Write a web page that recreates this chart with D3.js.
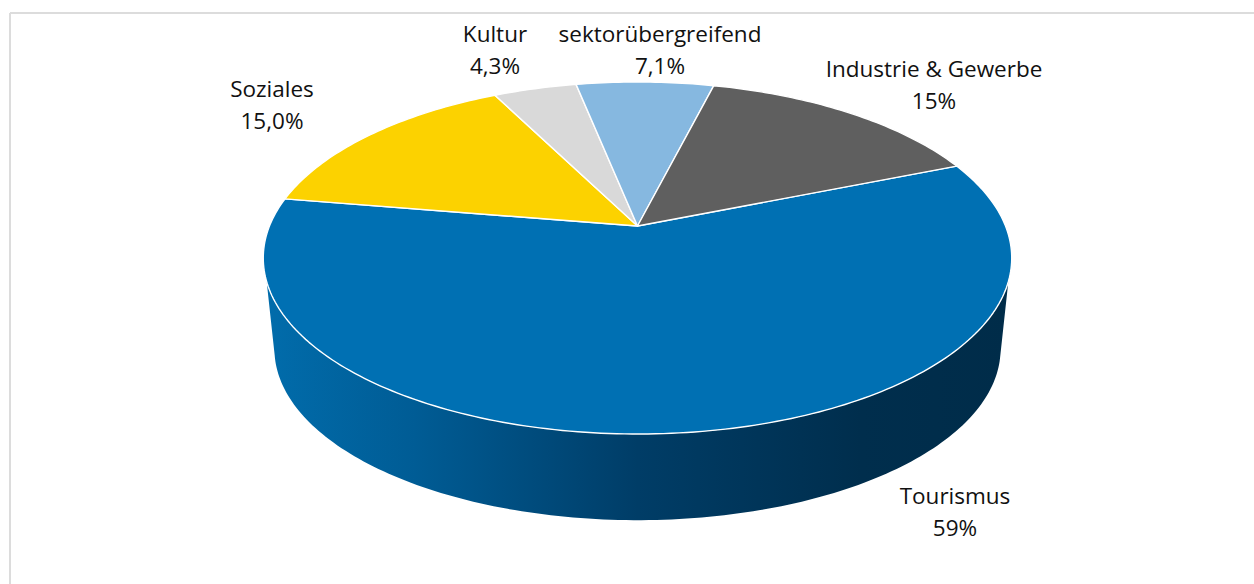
<!DOCTYPE html>
<html>
<head>
<meta charset="utf-8">
<script src="https://cdnjs.cloudflare.com/ajax/libs/d3/7.8.5/d3.min.js"></script>
<style>
    html, body { margin: 0; padding: 0; background: #fff; overflow: hidden; }
    text { font-family: "Open Sans", sans-serif; font-size: 22.5px; fill: #111; text-anchor: middle; }
</style>
</head>
<body>
<svg id="visualisation" width="1254" height="584"></svg>
<script>
// Pie data, clockwise from the first slice
var categories = ['Tourismus', 'Soziales', 'Kultur', 'sektorübergreifend', 'Industrie & Gewerbe'];
var values = [59, 15, 4.3, 7.1, 15];
var valueLabels = ['59%', '15,0%', '4,3%', '7,1%', '15%'];
var colours = ['#0070b3', '#fcd200', '#d9d9d9', '#86b8e0', '#5f5f5f'];

// Label anchor positions, same order as categories
var labelX = [955, 272, 495, 660, 934];
var labelY = [504, 97, 42, 42, 77];
var lineHeight = 32;

var deg = Math.PI / 180;
var width = 1254;
var height = 584;
var cx = 637.5;
var tilt = 0.1818; // perspective strength of the tilted disc

// Top and bottom disc of the pie, both seen in perspective
var topDisc = { a: 368, b: 170.2, y0: 226 };
var bottomDisc = { a: 357, b: 165.4, y0: 318 };

var svg = d3.select('#visualisation');

// Gradient of the side wall
var wallStops = [
    [0, '#016cab'], [0.2, '#005c95'], [0.5, '#003d67'], [0.8, '#002e4d'], [1, '#002c49']
];
var gradient = svg.append('defs').append('linearGradient')
    .attr('id', 'wall')
    .attr('gradientUnits', 'userSpaceOnUse')
    .attr('x1', 266).attr('x2', 1010)
    .attr('y1', 0).attr('y2', 0);
wallStops.forEach(s => {
    gradient.append('stop').attr('offset', s[0]).attr('stop-color', s[1]);
});

// Frame, its right and bottom sides fall outside the picture
var frame = svg.append('g').attr('stroke', '#dcdcdc').attr('stroke-width', 2);
frame.append('line').attr('x1', 10).attr('y1', 13).attr('x2', width).attr('y2', 13);
frame.append('line').attr('x1', 10).attr('y1', 13).attr('x2', 10).attr('y2', height);

// angle: radians clockwise from 12 o'clock, as in d3.pie
function project(disc, angle) {
    var X = Math.sin(angle);
    var Y = -Math.cos(angle);
    var w = 1 - tilt * Y;
    return [cx + disc.a * X / w, disc.y0 + disc.b * Y / w];
}

function rim(disc, from, to) {
    var steps = Math.ceil(Math.abs(to - from) / deg);
    return d3.range(steps + 1).map(i => project(disc, from + (to - from) * i / steps));
}

var line = d3.line();

// Side wall, only the front of the pie can be seen
var wallPoints = rim(topDisc, 108 * deg, 252 * deg)
    .concat(rim(bottomDisc, 257.5 * deg, 103.5 * deg));
svg.append('path')
    .attr('d', line(wallPoints) + 'Z')
    .attr('fill', 'url(#wall)');

// Top of the pie
var pie = d3.pie()
    .sort(null)
    .startAngle(67.9 * deg)
    .endAngle(67.9 * deg + 2 * Math.PI);

svg.append('g')
    .selectAll('path')
    .data(pie(values))
    .enter()
    .append('path')
    .attr('d', d => line([[cx, topDisc.y0]].concat(rim(topDisc, d.startAngle, d.endAngle))) + 'Z')
    .attr('fill', (d, i) => colours[i])
    .attr('stroke', '#fff')
    .attr('stroke-width', 1.4)
    .attr('stroke-linejoin', 'round');

// Labels
var labels = svg.append('g')
    .selectAll('text')
    .data(categories)
    .enter()
    .append('text')
    .attr('y', (d, i) => labelY[i]);
labels.append('tspan')
    .attr('x', (d, i) => labelX[i])
    .text(d => d);
labels.append('tspan')
    .attr('x', (d, i) => labelX[i])
    .attr('dy', lineHeight)
    .text((d, i) => valueLabels[i]);
</script>
</body>
</html>
